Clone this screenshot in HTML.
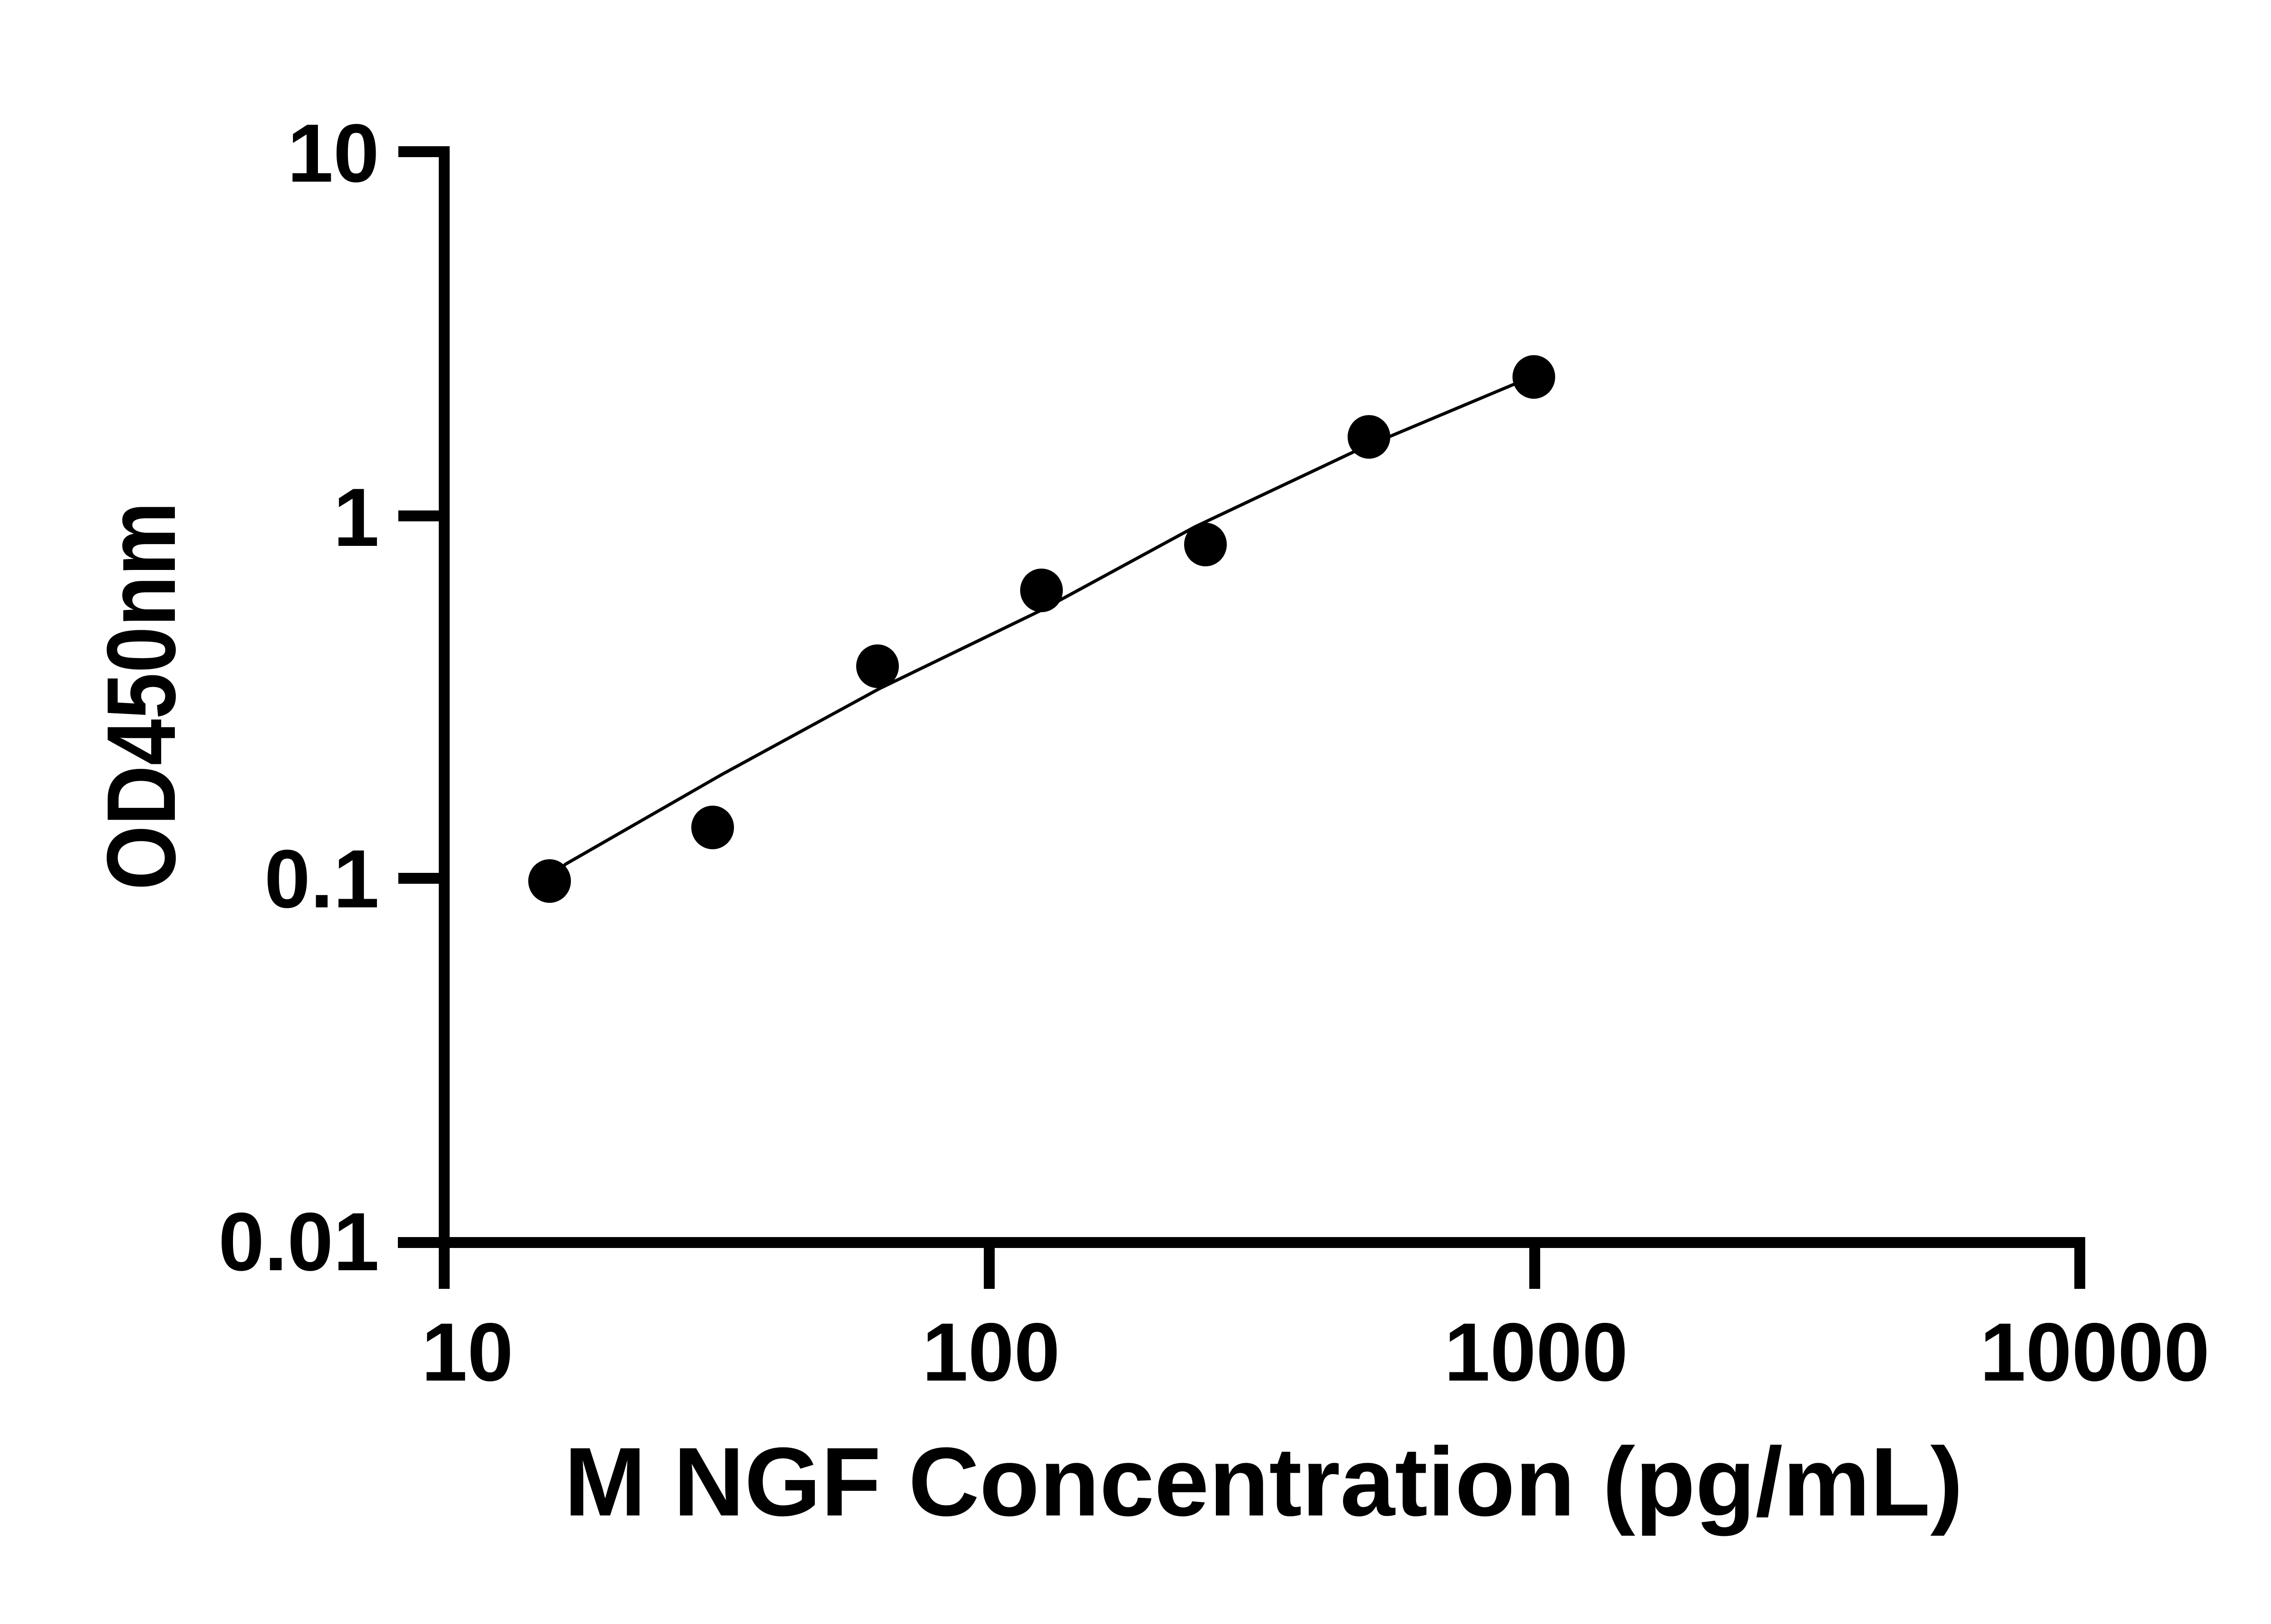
<!DOCTYPE html>
<html><head><meta charset="utf-8"><style>html,body{margin:0;padding:0;background:#fff}svg{display:block}</style></head>
<body>
<svg width="5130" height="3576" viewBox="0 0 5130 3576" xmlns="http://www.w3.org/2000/svg">
<g stroke="#000" fill="none" stroke-linecap="butt">
<line x1="978" y1="322" x2="978" y2="2838" stroke-width="24"/>
<line x1="876" y1="2736" x2="4591" y2="2736" stroke-width="24"/>
<line x1="877" y1="334" x2="978" y2="334" stroke-width="24"/>
<line x1="877" y1="1136" x2="978" y2="1136" stroke-width="24"/>
<line x1="877" y1="1934" x2="978" y2="1934" stroke-width="24"/>
<line x1="2178" y1="2736" x2="2178" y2="2838" stroke-width="24"/>
<line x1="3379" y1="2736" x2="3379" y2="2838" stroke-width="24"/>
<line x1="4579" y1="2736" x2="4579" y2="2838" stroke-width="24"/>
<polyline points="1210,1935 1245,1903 1590,1705 1935,1517 2294,1343 2631,1160 2991,990 3336,845 3377,830" stroke-width="7"/>
</g>
<g fill="#000">
<ellipse cx="1210" cy="1940" rx="47" ry="48"/>
<ellipse cx="1569" cy="1822" rx="47" ry="48"/>
<ellipse cx="1932" cy="1467" rx="47" ry="48"/>
<ellipse cx="2293" cy="1300" rx="47" ry="48"/>
<ellipse cx="2654" cy="1199" rx="47" ry="48"/>
<ellipse cx="3014" cy="962" rx="47" ry="48"/>
<ellipse cx="3377" cy="830" rx="47" ry="48"/>
</g>
<g font-family="Liberation Sans, sans-serif" font-weight="bold" fill="#000" font-size="182">
<text x="835" y="400" text-anchor="end">10</text>
<text x="835" y="1202" text-anchor="end">1</text>
<text x="835" y="1998" text-anchor="end">0.1</text>
<text x="835" y="2797" text-anchor="end">0.01</text>
<text x="1029" y="3040" text-anchor="middle">10</text>
<text x="2182" y="3040" text-anchor="middle">100</text>
<text x="3382" y="3040" text-anchor="middle">1000</text>
<text x="4612" y="3040" text-anchor="middle">10000</text>
<text x="1242" y="3337" font-size="215" textLength="3080" lengthAdjust="spacingAndGlyphs">M NGF Concentration (pg/mL)</text>
<text transform="translate(385,1960) rotate(-90)" font-size="215" textLength="855" lengthAdjust="spacingAndGlyphs">OD450nm</text>
</g>
</svg>
</body></html>
